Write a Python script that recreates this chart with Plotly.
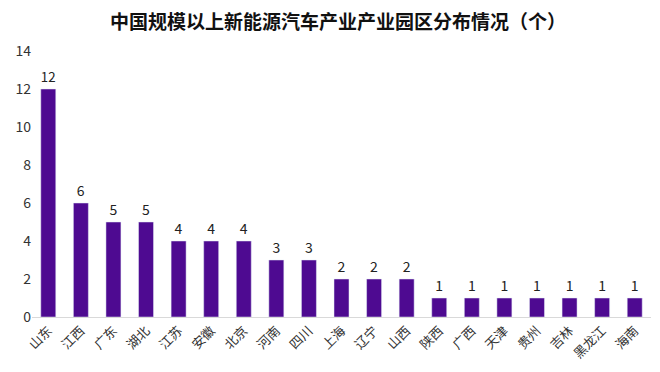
import plotly.graph_objects as go

provinces = ["山东", "江西", "广东", "湖北", "江苏", "安徽", "北京", "河南", "四川", "上海",
             "辽宁", "山西", "陕西", "广西", "天津", "贵州", "吉林", "黑龙江", "海南"]
counts = [12, 6, 5, 5, 4, 4, 4, 3, 3, 2, 2, 2, 1, 1, 1, 1, 1, 1, 1]
y_ticks = [0, 2, 4, 6, 8, 10, 12, 14]
title_text = "中国规模以上新能源汽车产业产业园区分布情况（个）"

font_family = "Noto Sans CJK SC"

fig = go.Figure(go.Bar(
    x=provinces, y=counts,
    text=[str(v) for v in counts], textposition="outside",
    textfont=dict(size=14, color="#222", family=font_family),
    marker=dict(color="#4E0A91"),
    cliponaxis=False,
))

fig.update_layout(
    width=660, height=372,
    margin=dict(l=24, r=17, t=43, b=63, autoexpand=False),
    paper_bgcolor="white", plot_bgcolor="white",
    bargap=0.54,
    showlegend=False,
    font=dict(family=font_family, size=13, color="#333"),
    title=dict(text="<b>" + title_text + "</b>", x=0.5, xanchor="center",
               y=1 - 14 / 372, yanchor="middle",
               font=dict(size=19, color="#111", family=font_family)),
)
fig.update_xaxes(tickangle=-45, showline=True, linecolor="#d9d9d9", linewidth=1,
                 ticks="", tickfont=dict(size=13, color="#333"))
fig.update_yaxes(range=[0, 14], tickvals=y_ticks, showgrid=False, zeroline=False,
                 showline=False, ticks="", tickfont=dict(size=14, color="#333"))

fig.write_html("out.html")
